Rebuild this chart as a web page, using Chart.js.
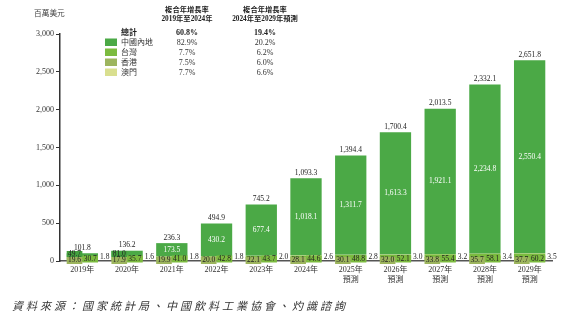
<!DOCTYPE html>
<html>
<head>
<meta charset="utf-8">
<script src="https://cdn.jsdelivr.net/npm/chart.js@4.4.1/dist/chart.umd.min.js"></script>
<style>
  html, body { margin: 0; padding: 0; background: #fff; }
</style>
</head>
<body>
<canvas id="marketChart" width="561" height="323"></canvas>
<script>
// values in million USD
const years = ['2019', '2020', '2021', '2022', '2023', '2024', '2025', '2026', '2027', '2028', '2029'];
const mainland = [49.7, 81.0, 173.5, 430.2, 677.4, 1018.1, 1311.7, 1613.3, 1921.1, 2234.8, 2550.4];
const taiwan = [30.7, 35.7, 41.0, 42.8, 43.7, 44.6, 48.8, 52.1, 55.4, 58.1, 60.2];
const hongkong = [19.6, 17.9, 19.9, 20.0, 22.1, 28.1, 30.1, 32.0, 33.8, 35.7, 37.7];
const macau = [1.8, 1.6, 1.8, 1.8, 2.0, 2.6, 2.8, 3.0, 3.2, 3.4, 3.5];
const totals = [101.8, 136.2, 236.3, 494.9, 745.2, 1093.3, 1394.4, 1700.4, 2013.5, 2332.1, 2651.8];
const firstForecast = 6; // 2025 onwards are forecasts

const regions = ['中國內地', '台灣', '香港', '澳門'];
const cagrPast = ['82.9%', '7.7%', '7.5%', '7.7%'];
const cagrFuture = ['20.2%', '6.2%', '6.0%', '6.6%'];
const cagrTotal = ['60.8%', '19.4%'];

const colors = {
    mainland: '#4ba946',
    mainlandBox: '#43a03e',
    taiwan: '#7cbb3f',
    hongkong: '#9db55e',
    macau: '#d9df8f'
};
const SERIF = '"Liberation Serif", "Noto Sans CJK TC", serif';

function fmt(v) {
    return v.toLocaleString('en-US', { minimumFractionDigits: 1, maximumFractionDigits: 1 });
}

// numbers on and under the bars
const barLabels = {
    id: 'barLabels',
    afterDatasetsDraw(chart) {
        const ctx = chart.ctx;
        const tops = chart.getDatasetMeta(3).data;
        const base = chart.scales.y.getPixelForValue(0);
        ctx.save();
        ctx.font = '7.5px ' + SERIF;
        ctx.textAlign = 'center';
        ctx.textBaseline = 'middle';
        tops.forEach((bar, i) => {
            const half = bar.width / 2;
            const left = bar.x - half;
            const right = bar.x + half;

            ctx.fillStyle = '#222';
            ctx.fillText(fmt(totals[i]), bar.x, bar.y - 5.5);

            if (mainland[i] < 100) {
                ctx.fillStyle = colors.mainlandBox;
                ctx.fillRect(left, base - 10, half, 6);
                ctx.fillStyle = '#222';
                ctx.fillText(fmt(mainland[i]), left + half / 2, base - 7);
            } else {
                ctx.fillStyle = '#fff';
                ctx.fillText(fmt(mainland[i]), bar.x, (bar.y + bar.base) / 2);
            }

            ctx.fillStyle = colors.hongkong;
            ctx.fillRect(left, base - 4, half, 7);
            ctx.fillStyle = '#222';
            ctx.fillText(fmt(hongkong[i]), left + half / 2, base - 0.5);

            ctx.fillStyle = colors.taiwan;
            ctx.fillRect(bar.x, base - 5.5, half, 7);
            ctx.fillStyle = '#222';
            ctx.fillText(fmt(taiwan[i]), bar.x + half / 2, base - 2);

            ctx.textAlign = 'left';
            ctx.fillText(fmt(macau[i]), right + 2, base - 4);
            ctx.textAlign = 'center';
        });
        ctx.restore();
    }
};

// unit, CAGR table and source line
const extras = {
    id: 'extras',
    afterDraw(chart) {
        const ctx = chart.ctx;
        ctx.save();
        ctx.textBaseline = 'middle';

        ctx.fillStyle = '#444';
        ctx.textAlign = 'left';
        ctx.font = '7.7px ' + SERIF;
        ctx.fillText('百萬美元', 34, 13.5);

        const col1 = 187, col2 = 265;
        ctx.fillStyle = '#222';
        ctx.textAlign = 'center';
        ctx.font = 'bold 7.3px ' + SERIF;
        ctx.fillText('複合年增長率', col1, 10);
        ctx.fillText('2019年至2024年', col1, 19);
        ctx.fillText('複合年增長率', col2, 10);
        ctx.fillText('2024年至2029年預測', col2, 19);

        ctx.font = 'bold 8px ' + SERIF;
        ctx.textAlign = 'left';
        ctx.fillText('總計', 121, 32.5);
        ctx.textAlign = 'center';
        ctx.fillText(cagrTotal[0], col1, 32.5);
        ctx.fillText(cagrTotal[1], col2, 32.5);

        const swatches = [colors.mainland, colors.taiwan, colors.hongkong, colors.macau];
        ctx.font = '8px ' + SERIF;
        regions.forEach((name, r) => {
            const y = 42.5 + r * 10;
            ctx.fillStyle = swatches[r];
            ctx.fillRect(105, y - 4, 12, 7.5);
            ctx.fillStyle = '#333';
            ctx.textAlign = 'left';
            ctx.fillText(name, 121, y);
            ctx.textAlign = 'center';
            ctx.fillText(cagrPast[r], col1, y);
            ctx.fillText(cagrFuture[r], col2, y);
        });

        ctx.fillStyle = '#333';
        ctx.textAlign = 'left';
        ctx.font = 'italic 11px ' + SERIF;
        ctx.letterSpacing = '3px';
        ctx.fillText('資料來源：國家統計局、中國飲料工業協會、灼識諮詢', 12, 307);
        ctx.restore();
    }
};

const ctx = document.getElementById('marketChart').getContext('2d');
const marketChart = new Chart(ctx, {
    type: 'bar',
    data: {
        labels: years.map((y, i) => i >= firstForecast ? [y + '年', '預測'] : y + '年'),
        datasets: [
            { label: '香港', data: hongkong, backgroundColor: colors.hongkong },
            { label: '台灣', data: taiwan, backgroundColor: colors.taiwan },
            { label: '澳門', data: macau, backgroundColor: colors.macau },
            { label: '中國內地', data: mainland, backgroundColor: colors.mainland }
        ]
    },
    options: {
        responsive: false,
        animation: false,
        barPercentage: 0.7,
        categoryPercentage: 1.0,
        layout: { padding: { top: 34, right: 9, left: 0, bottom: 0 } },
        plugins: { legend: { display: false }, tooltip: { enabled: false } },
        scales: {
            x: {
                stacked: true,
                grid: { display: false, drawTicks: false },
                border: { display: true, color: '#555', width: 1.5 },
                ticks: {
                    color: '#333',
                    padding: 4,
                    maxRotation: 0,
                    autoSkip: false,
                    font: { family: SERIF, size: 8, lineHeight: 1.25 }
                },
                afterFit: s => { s.height = 62; }
            },
            y: {
                stacked: true,
                min: 0,
                max: 3000,
                grid: { display: true, drawOnChartArea: false, drawTicks: true, tickLength: 4, color: '#333' },
                border: { display: true, color: '#333', width: 1.5 },
                ticks: {
                    stepSize: 500,
                    color: '#333',
                    padding: 2,
                    font: { family: SERIF, size: 8 },
                    callback: v => v.toLocaleString('en-US')
                },
                afterFit: s => { s.width = 60; }
            }
        }
    },
    plugins: [barLabels, extras]
});
</script>
</body>
</html>
